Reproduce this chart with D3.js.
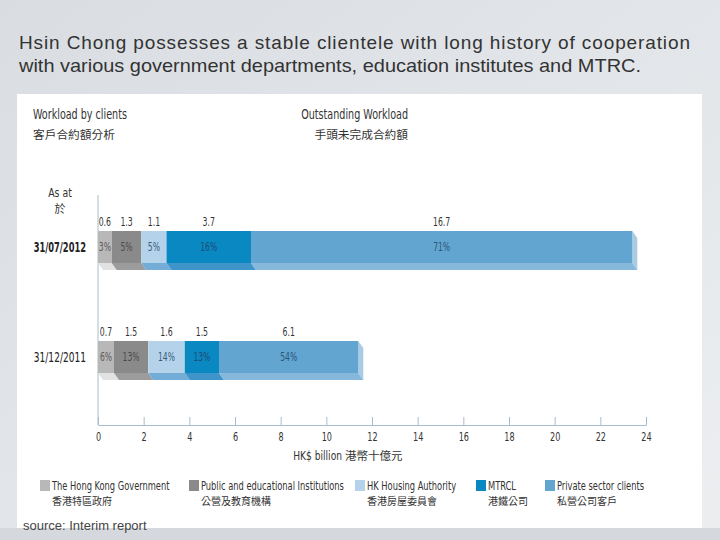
<!DOCTYPE html>
<html><head><meta charset="utf-8">
<script src="https://cdn.jsdelivr.net/npm/d3@7"></script>
<style>
html,body{margin:0;padding:0;background:#e3e6e9;}
svg{display:block;}
</style></head>
<body>
<svg id="c" width="720" height="540"></svg>
<script>
// ---- data ----
const dates = ["31/07/2012", "31/12/2011"];
const categories = ["The Hong Kong Government", "Public and educational Institutions", "HK Housing Authority", "MTRCL", "Private sector clients"];
const categoriesZh = ["香港特區政府", "公營及教育機構", "香港房屋委員會", "港鐵公司", "私營公司客戶"];
const values2012 = [0.6, 1.3, 1.1, 3.7, 16.7];
const values2011 = [0.7, 1.5, 1.6, 1.5, 6.1];
const pct2012 = ["3%", "5%", "5%", "16%", "71%"];
const pct2011 = ["6%", "13%", "14%", "13%", "54%"];
const xTicks = [0, 2, 4, 6, 8, 10, 12, 14, 16, 18, 20, 22, 24];
const titleLines = ["Hsin Chong possesses a stable clientele with long history of cooperation",
                    "with various government departments, education institutes and MTRC."];

// ---- styles ----
const colors = ["#b8b8b8", "#8a8a8a", "#b4d3ea", "#0a88c1", "#62a5d0"];
const bottomColors = ["#e2e2e2", "#9c9c9c", "#72acd7", "#3f95c9", "#86b8dc"];
const pctColors = ["#5a5a5a", "#4a4a4a", "#3a5c7a", "#1d4d78", "#2d5578"];
const NARROW = "'Liberation Sans Narrow','Arial Narrow','DejaVu Sans Condensed','DejaVu Sans',sans-serif";
const CJK = "'Noto Sans CJK TC','Noto Sans CJK SC',sans-serif";

// horizontally condense text via transform (no narrow font installed)
function condense(sel, f) {
  sel.each(function () {
    const t = d3.select(this);
    const xx = +(t.attr("x") || 0), yy = +(t.attr("y") || 0);
    t.attr("x", 0).attr("y", 0).attr("transform", `translate(${xx},${yy}) scale(${f},1)`);
  });
  return sel;
}

const svg = d3.select("#c");
const defs = svg.append("defs");
const g1 = defs.append("linearGradient").attr("id","bg").attr("x1",0).attr("y1",0).attr("x2",1).attr("y2",1);
g1.append("stop").attr("offset","0%").attr("stop-color","#d9dde2");
g1.append("stop").attr("offset","100%").attr("stop-color","#eceef0");
svg.append("rect").attr("width",720).attr("height",540).attr("fill","url(#bg)");
svg.append("rect").attr("x",0).attr("y",528).attr("width",720).attr("height",12).attr("fill","#d5d8dc");

// title
svg.selectAll("text.title").data(titleLines).join("text").attr("class","title")
  .attr("x", 19).attr("y", (d,i) => 49 + i*23)
  .attr("font-family","'Liberation Sans',Arial,sans-serif").attr("font-size",19).attr("fill","#333")
  .attr("textLength", (d,i) => i===0 ? 671 : 622)
  .attr("lengthAdjust", (d,i) => i===0 ? "spacing" : "spacingAndGlyphs")
  .text(d => d);

// white panel
svg.append("rect").attr("x",17).attr("y",94).attr("width",685).attr("height",434).attr("fill","#fff");

// headers
const hdr = svg.append("g").attr("fill","#333");
condense(hdr.append("text").attr("x",33).attr("y",119).attr("font-family",NARROW).attr("font-size",13.5).text("Workload by clients"), 0.79);
hdr.append("text").attr("x",33).attr("y",139).attr("font-family",CJK).attr("font-size",11.7).text("客戶合約額分析");
condense(hdr.append("text").attr("x",408).attr("y",119).attr("text-anchor","end").attr("font-family",NARROW).attr("font-size",13.5).text("Outstanding Workload"), 0.79);
hdr.append("text").attr("x",408).attr("y",139).attr("text-anchor","end").attr("font-family",CJK).attr("font-size",11.7).text("手頭未完成合約額");
condense(hdr.append("text").attr("x",60).attr("y",197).attr("text-anchor","middle").attr("font-family",NARROW).attr("font-size",13).text("As at"), 0.8);
hdr.append("text").attr("x",60).attr("y",213).attr("text-anchor","middle").attr("font-family",CJK).attr("font-size",11).text("於");

// scales
const x = d3.scaleLinear().domain([0, 24]).range([98, 646]);
const y = d3.scalePoint().domain(dates).range([247, 357]);
const barH = 32, dx = 5, dy = 7;

// axes lines
svg.append("line").attr("x1",98).attr("x2",98).attr("y1",195).attr("y2",425).attr("stroke","#a9bccb").attr("stroke-width",1);
const xAxis = d3.axisBottom(x).tickValues(xTicks).tickSizeInner(-8).tickSizeOuter(0).tickPadding(6);
const ax = svg.append("g").attr("transform","translate(0,425)").call(xAxis);
ax.select(".domain").attr("stroke","#a9bccb");
ax.selectAll(".tick line").attr("stroke","#a9bccb");
condense(ax.selectAll(".tick text").attr("dy","0.71em").attr("y",7).attr("font-family",NARROW).attr("font-size",12).attr("fill","#333"), 0.75);
const at = svg.append("g");
condense(at.append("text").attr("x",342).attr("y",460).attr("text-anchor","end").attr("fill","#333")
  .attr("font-family",NARROW).attr("font-size",13).text("HK$ billion"), 0.78);
at.append("text").attr("x",345).attr("y",460).attr("fill","#333")
  .attr("font-family",CJK).attr("font-size",11.5).text("港幣十億元");

// bars
const rows = [
  {date: dates[0], vals: values2012, pct: pct2012},
  {date: dates[1], vals: values2011, pct: pct2011}
];
rows.forEach((row, ri) => {
  const cum = d3.cumsum(row.vals);
  const segs = row.vals.map((v, i) => ({v, i, x0: i ? cum[i-1] : 0, x1: cum[i], pct: row.pct[i]}));
  const yt = y(row.date) - barH/2, yb = yt + barH;
  const g = svg.append("g");
  const last = segs[segs.length-1];
  g.append("path").attr("d", `M${x(last.x1)},${yt}L${x(last.x1)+dx},${yt+dy}L${x(last.x1)+dx},${yb+dy}L${x(last.x1)},${yb}Z`)
    .attr("fill","#abcbe4");
  g.selectAll("path.bot").data(segs).join("path").attr("class","bot")
    .attr("d", d => `M${x(d.x0)},${yb}L${x(d.x1)},${yb}L${x(d.x1)+dx},${yb+dy}L${x(d.x0)+dx},${yb+dy}Z`)
    .attr("fill", d => bottomColors[d.i]);
  g.selectAll("rect").data(segs).join("rect")
    .attr("x", d => x(d.x0)).attr("y", yt).attr("width", d => x(d.x1) - x(d.x0)).attr("height", barH)
    .attr("fill", d => colors[d.i]);
  condense(g.selectAll("text.val").data(segs).join("text").attr("class","val")
    .attr("x", d => (x(d.x0)+x(d.x1))/2).attr("y", yt - 5).attr("text-anchor","middle")
    .attr("font-family",NARROW).attr("font-size",11.5).attr("fill","#333").text(d => d.v.toFixed(1)), 0.75);
  condense(g.selectAll("text.pct").data(segs).join("text").attr("class","pct")
    .attr("x", d => (x(d.x0)+x(d.x1))/2).attr("y", y(row.date) + 4).attr("text-anchor","middle")
    .attr("font-family",NARROW).attr("font-size",11.5).attr("fill", d => pctColors[d.i]).text(d => d.pct), 0.74);
  condense(svg.append("text").attr("x",86).attr("y", y(row.date)+5).attr("text-anchor","end")
    .attr("font-family",NARROW).attr("font-size",14).attr("font-weight", ri===0 ? "bold" : "normal")
    .attr("fill","#222").text(row.date), ri===0 ? 0.66 : 0.72);
});

// legend
const legendX = [40, 189, 355, 476, 545];
const lg = svg.selectAll("g.leg").data(categories).join("g").attr("class","leg")
  .attr("transform", (d,i) => `translate(${legendX[i]},480)`);
lg.append("rect").attr("width",10).attr("height",11).attr("fill", (d,i) => colors[i]);
condense(lg.append("text").attr("x",12).attr("y",10).attr("font-family",NARROW).attr("font-size",12).attr("fill","#333").text(d => d), 0.77);
lg.append("text").attr("x",12).attr("y",25).attr("font-family",CJK).attr("font-size",10).attr("fill","#333").text((d,i) => categoriesZh[i]);

// source
svg.append("text").attr("x",23).attr("y",530).attr("font-family","'Liberation Sans',Arial,sans-serif").attr("font-size",13).attr("fill","#444").text("source: Interim report");
</script>
</body></html>
